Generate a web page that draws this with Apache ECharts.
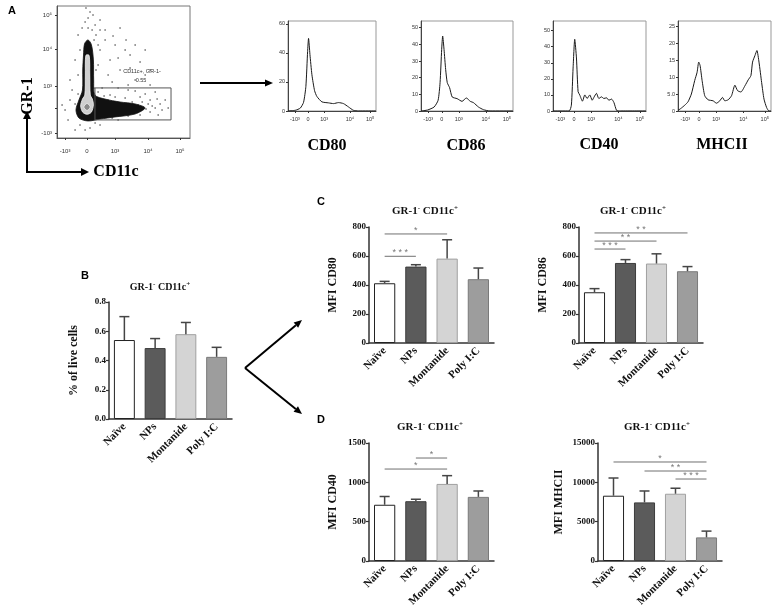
<!DOCTYPE html>
<html><head><meta charset="utf-8">
<script src="https://cdn.jsdelivr.net/npm/echarts@6/dist/echarts.min.js"></script>
<style>html,body{margin:0;padding:0;background:#fff}#c{width:777px;height:612px}</style>
</head><body><div id="c"></div>
<script>
// ---------- DATA ----------
const categories = ['Naïve', 'NPs', 'Montanide', 'Poly I:C'];
const pctLive = [0.54, 0.485, 0.58, 0.425];
const pctLiveErr = [0.70, 0.55, 0.66, 0.49];
const mfiCD80 = [412, 527, 582, 440];
const mfiCD80Err = [425, 540, 712, 517];
const mfiCD86 = [350, 552, 548, 495];
const mfiCD86Err = [375, 575, 615, 527];
const mfiCD40 = [715, 760, 980, 815];
const mfiCD40Err = [820, 785, 1085, 890];
const mfiMHCII = [8300, 7450, 8550, 3000];
const mfiMHCIIErr = [10550, 8900, 9250, 3800];
// significance: [fromIndex, yValue, toIndex, label]
const sigCD80 = [[0, 598, 1, '***'], [0, 752, 2, '*']];
const sigCD86 = [[0, 648, 1, '***'], [0, 703, 2, '**'], [0, 759, 3, '**']];
const sigCD40 = [[0, 1169, 2, '*'], [1, 1309, 2, '*']];
const sigMHCII = [[0, 12585, 3, '*'], [1, 11440, 3, '**'], [2, 10420, 3, '***']];

// flow cytometry histograms: [channel, count]
const histTickPos = [80, 232, 420, 720, 955];
const histTickLabels = ['-10³', '0', '10³', '10⁴', '10⁵'];
const histCD80YTicks = [0, 20, 40, 60];
const histCD86YTicks = [0, 10, 20, 30, 40, 50];
const histCD40YTicks = [0, 10, 20, 30, 40, 50];
const histMHCIIYTicks = [0, 5, 10, 15, 20, 25];
const histCD80 = [[0,0],[85,0.5],[143,2],[181,6],[208,17],[228,41],[239,50],[255,39],[278,25],[309,14],[336,10],[394,6.3],[471,5.6],[529,5.1],[587,5.8],[645,5.1],[703,2.8],[760,0.5],[818,0],[1023,0]];
const histCD86 = [[0,0],[73,0.6],[146,2.4],[190,6.4],[212,17],[230,37],[241,45],[256,37],[274,25],[292,17],[318,14],[347,8.4],[402,7.4],[456,5.8],[504,7.8],[548,5.8],[584,5],[639,2.4],[694,0.8],[767,0],[1022,0]];
const histCD40 = [[0,0],[177,0],[202,3.6],[221,26.7],[239,44.6],[258,33],[276,12],[294,10],[324,6.1],[350,10],[375,7.8],[405,10],[431,6.7],[453,8.8],[478,11],[504,7.8],[534,8.8],[559,7.8],[589,8.2],[615,6.7],[644,7.4],[670,5.3],[699,0.4],[729,0],[1023,0]];
const histMHCII = [[0,0.2],[29,0.7],[74,1.7],[110,2.7],[147,5],[184,9],[210,11.4],[228,14.4],[243,13.4],[265,9],[294,4.5],[331,3.3],[386,3],[423,2.3],[460,3],[489,4],[515,3],[552,3.3],[589,4.5],[626,7.6],[655,6],[692,5.6],[736,7.4],[773,9.2],[802,10.4],[820,14.4],[846,16.3],[868,17.8],[891,14.4],[920,8.4],[946,3.5],[975,1],[1001,0],[1023,0]];

// dot plot (channels)
const dotXTickPos = [62, 231, 446, 700, 946];
const dotXTickLabels = ['-10³', '0', '10³', '10⁴', '10⁵'];
const dotYTickPos = [39, 233, 403, 690, 953];
const dotYTickLabels = ['-10³', '', '10³', '10⁴', '10⁵'];
const dotOuter = [[212,730],[238,760],[264,725],[280,605],[282,450],[292,333],[369,302],[485,279],[600,264],[677,233],[600,186],[446,163],[331,147],[238,132],[169,155],[146,217],[169,295],[196,372],[198,527],[204,643]];
const dotCore = [[222,640],[247,640],[252,488],[256,333],[272,302],[280,256],[264,200],[231,184],[198,200],[182,248],[196,302],[214,333],[218,488]];
const dotInner = [[206,240],[231,268],[256,240],[231,213]];
const gateRect = [[292,140],[877,140],[877,388],[292,388],[292,140]];
const dotEvents = [[254,977],[277,953],[239,930],[216,899],[293,876],[270,837],[193,853],[331,915],[300,798],[162,798],[370,760],[447,721],[524,682],[562,643],[408,605],[639,589],[485,527],[331,682],[393,488],[601,450],[716,411],[316,566],[408,333],[524,310],[639,318],[716,295],[793,264],[562,217],[716,202],[485,233],[678,341],[755,357],[832,295],[639,178],[408,202],[331,194],[601,364],[100,295],[62,217],[116,372],[85,140],[139,62],[100,450],[39,256],[254,78],[331,101],[216,62],[470,388],[547,411],[424,434],[678,488],[347,388],[778,178],[855,233],[370,837],[223,1008],[470,620],[139,605],[162,488],[562,543],[624,256],[547,171],[470,140],[293,116],[177,101],[701,264],[755,233],[447,318],[501,178],[393,295],
  [308,264],[323,233],[354,248],[377,217],[424,264],[439,240],[470,209],[501,264],[531,240],[578,279],[593,233],[624,209],[655,279],[685,225],[732,248],[770,302],[808,217],[300,178],[362,171],[424,155],[516,202],[316,357],[362,326],[285,388],[162,341],[139,264],[177,186],[300,527],[177,682],[316,721],[285,760],[331,837],[239,853],[431,790],[485,853],[531,760],[601,721],[678,682],[716,527],[547,372]];

// ---------- CHART ----------
const SERIF = 'Liberation Serif';
const SANS = 'Liberation Sans';
const chart = echarts.init(document.getElementById('c'), null, {renderer: 'canvas'});

const grids = [], xAxes = [], yAxes = [], series = [];

// panel A dot plot
grids.push({left: 57, top: 6, width: 133, height: 132, show: true, borderColor: '#777', borderWidth: 1});
xAxes.push({type: 'value', gridIndex: 0, min: 0, max: 1023, splitLine: {show: false},
  axisLine: {lineStyle: {color: '#555'}},
  axisTick: {customValues: dotXTickPos, length: 2, lineStyle: {color: '#333'}},
  axisLabel: {customValues: dotXTickPos, formatter: v => dotXTickLabels[dotXTickPos.indexOf(v)], fontSize: 6, color: '#333', fontFamily: SANS, margin: 10}});
yAxes.push({type: 'value', gridIndex: 0, min: 0, max: 1023, splitLine: {show: false},
  axisLine: {lineStyle: {color: '#555'}},
  axisTick: {customValues: dotYTickPos, length: 2, lineStyle: {color: '#333'}},
  axisLabel: {customValues: dotYTickPos, formatter: v => dotYTickLabels[dotYTickPos.indexOf(v)], fontSize: 6, color: '#333', fontFamily: SANS, margin: 5}});
function polySeries(poly, fill, stroke, z) {
  return {type: 'custom', xAxisIndex: 0, yAxisIndex: 0, data: [[poly[0][0], poly[0][1]]], z: z, silent: true,
    renderItem: (p, api) => ({type: 'polygon', shape: {points: poly.map(pt => api.coord(pt)), smooth: 0.3},
      style: {fill: fill, stroke: stroke, lineWidth: 0.8}})};
}
series.push({type: 'scatter', xAxisIndex: 0, yAxisIndex: 0, data: dotEvents, symbolSize: 1.6, itemStyle: {color: '#111'}, z: 2, silent: true});
series.push(polySeries(dotOuter, '#111', '#111', 3));
series.push(polySeries(dotCore, '#cfcfcf', '#f4f4f4', 4));
series.push(polySeries(dotInner, '#8a8a8a', '#eee', 5));
series.push({type: 'line', xAxisIndex: 0, yAxisIndex: 0, data: gateRect, symbol: 'none', lineStyle: {color: '#555', width: 1}, z: 6, silent: true});

// histograms
const hists = [
  {data: histCD80, ticks: histCD80YTicks, left: 288, width: 88, max: 62},
  {data: histCD86, ticks: histCD86YTicks, left: 421, width: 92, max: 54},
  {data: histCD40, ticks: histCD40YTicks, left: 553, width: 93, max: 56},
  {data: histMHCII, ticks: histMHCIIYTicks, left: 678, width: 93, max: 26.5}
];
hists.forEach((h, i) => {
  const gi = grids.length;
  grids.push({left: h.left, top: 21, width: h.width, height: 90, show: true, borderColor: '#999', borderWidth: 1});
  xAxes.push({type: 'value', gridIndex: gi, min: 0, max: 1023, splitLine: {show: false},
    axisLine: {lineStyle: {color: '#444'}},
    axisTick: {customValues: histTickPos, length: 2, lineStyle: {color: '#333'}},
    axisLabel: {customValues: histTickPos, formatter: v => histTickLabels[histTickPos.indexOf(v)], fontSize: 5.5, color: '#333', fontFamily: SANS, margin: 5}});
  yAxes.push({type: 'value', gridIndex: gi, min: 0, max: h.max, splitLine: {show: false},
    axisLine: {show: true, lineStyle: {color: '#444'}},
    axisTick: {show: true, customValues: h.ticks, length: 2, lineStyle: {color: '#333'}},
    axisLabel: {customValues: h.ticks, fontSize: 5.5, color: '#333', fontFamily: SANS, margin: 3,
      formatter: v => (h.ticks[1] === 5 && v === 5 ? '5.0' : String(v))}});
  series.push({type: 'line', xAxisIndex: gi, yAxisIndex: gi, data: h.data, symbol: 'none', smooth: 0.2,
    lineStyle: {color: '#1a1a1a', width: 1}, silent: true});
});

// bar charts
const barStyles = [
  {color: '#ffffff', borderColor: '#222', borderWidth: 1},
  {color: '#5b5b5b', borderColor: '#3c3c3c', borderWidth: 1},
  {color: '#d4d4d4', borderColor: '#a0a0a0', borderWidth: 1},
  {color: '#9d9d9d', borderColor: '#7a7a7a', borderWidth: 1}
];
const bars = [
  {vals: pctLive, errs: pctLiveErr, sig: [], left: 109, width: 123, top: 302, height: 117, max: 0.8, interval: 0.2, name: '% of live cells', nameGap: 29, fmt: v => v.toFixed(1)},
  {vals: mfiCD80, errs: mfiCD80Err, sig: sigCD80, left: 369, width: 125, top: 227, height: 116, max: 800, interval: 200, name: 'MFI CD80', nameGap: 30, fmt: v => String(v)},
  {vals: mfiCD86, errs: mfiCD86Err, sig: sigCD86, left: 579, width: 124, top: 227, height: 116, max: 800, interval: 200, name: 'MFI CD86', nameGap: 30, fmt: v => String(v)},
  {vals: mfiCD40, errs: mfiCD40Err, sig: sigCD40, left: 369, width: 125, top: 443, height: 118, max: 1500, interval: 500, name: 'MFI CD40', nameGap: 30, fmt: v => String(v)},
  {vals: mfiMHCII, errs: mfiMHCIIErr, sig: sigMHCII, left: 598, width: 124, top: 443, height: 118, max: 15000, interval: 5000, name: 'MFI MHCII', nameGap: 33, fmt: v => String(v)}
];
bars.forEach(b => {
  const gi = grids.length;
  grids.push({left: b.left, top: b.top, width: b.width, height: b.height});
  xAxes.push({type: 'category', gridIndex: gi, data: categories,
    axisLine: {lineStyle: {color: '#333', width: 1.5}},
    axisTick: {alignWithLabel: true, length: 4, lineStyle: {color: '#333', width: 1.2}},
    axisLabel: {rotate: 45, interval: 0, fontFamily: SERIF, fontWeight: 'bold', fontSize: 11, color: '#111', margin: 6}});
  yAxes.push({type: 'value', gridIndex: gi, min: 0, max: b.max, interval: b.interval, splitLine: {show: false},
    axisLine: {show: true, lineStyle: {color: '#333', width: 1.5}},
    axisTick: {show: true, length: 3, lineStyle: {color: '#333', width: 1.2}},
    axisLabel: {fontFamily: SERIF, fontWeight: 'bold', fontSize: 9, color: '#111', margin: 3, formatter: b.fmt},
    name: b.name, nameLocation: 'middle', nameGap: b.nameGap,
    nameTextStyle: {fontFamily: SERIF, fontWeight: 'bold', fontSize: 12, color: '#111'}});
  series.push({type: 'bar', xAxisIndex: gi, yAxisIndex: gi, barWidth: '68%', silent: true,
    data: b.vals.map((v, i) => ({value: v, itemStyle: barStyles[i]}))});
  series.push({type: 'custom', xAxisIndex: gi, yAxisIndex: gi, z: 3, silent: true,
    data: b.vals.map((v, i) => [i, v, b.errs[i]]),
    renderItem: (p, api) => {
      const s = api.coord([api.value(0), api.value(1)]);
      const t = api.coord([api.value(0), api.value(2)]);
      const st = {stroke: '#454545', lineWidth: 1.5};
      return {type: 'group', children: [
        {type: 'line', shape: {x1: s[0], y1: s[1], x2: t[0], y2: t[1]}, style: st},
        {type: 'line', shape: {x1: t[0] - 5, y1: t[1], x2: t[0] + 5, y2: t[1]}, style: st}]};
    }});
  if (b.sig.length) {
    series.push({type: 'custom', xAxisIndex: gi, yAxisIndex: gi, z: 4, silent: true,
      encode: {x: 0, y: 1},
      data: b.sig.map(s => [s[0], s[1], s[2]]),
      renderItem: (p, api) => {
        const a = api.coord([api.value(0), api.value(1)]);
        const c = api.coord([api.value(2), api.value(1)]);
        return {type: 'group', children: [
          {type: 'line', shape: {x1: a[0], y1: a[1], x2: c[0], y2: c[1]}, style: {stroke: '#707070', lineWidth: 1}},
          {type: 'text', style: {text: b.sig[p.dataIndex][3].split('').join(' '), x: (a[0] + c[0]) / 2, y: a[1] + 1,
            textAlign: 'center', textVerticalAlign: 'bottom', fontSize: 9, fill: '#777', fontFamily: SANS}}]};
      }});
  }
});

// ---------- decorations ----------
function arrow(x1, y1, x2, y2, w, hl, hw) {
  const ang = Math.atan2(y2 - y1, x2 - x1);
  const bx = x2 - hl * Math.cos(ang), by = y2 - hl * Math.sin(ang);
  const px = -Math.sin(ang) * hw / 2, py = Math.cos(ang) * hw / 2;
  return [
    {type: 'line', shape: {x1: x1, y1: y1, x2: bx, y2: by}, style: {stroke: '#000', lineWidth: w}},
    {type: 'polygon', shape: {points: [[x2, y2], [bx + px, by + py], [bx - px, by - py]]}, style: {fill: '#000'}}
  ];
}
function txt(t, x, y, size, font, extra) {
  return {type: 'text', x: x, y: y, style: Object.assign({text: t, fontSize: size, fontFamily: font,
    fontWeight: 'bold', fill: '#000', textAlign: 'center', textVerticalAlign: 'middle'}, extra || {})};
}
function ttl(x, y, size) {
  const r = {
    a: {fontFamily: SERIF, fontWeight: 'bold', fontSize: size, fill: '#111'},
    s: {fontFamily: SERIF, fontWeight: 'bold', fontSize: 7, fill: '#111', verticalAlign: 'top', padding: [0, 0, 5, 0]}
  };
  return {type: 'text', x: x, y: y, style: {text: '{a|GR-1}{s|-}{a| CD11c}{s|+}', rich: r, textAlign: 'center', textVerticalAlign: 'middle'}};
}
const graphics = [].concat(
  arrow(200, 83, 273, 83, 2, 8, 7),
  arrow(27, 172, 27, 111, 2, 8, 8),
  arrow(26, 172, 89, 172, 2, 8, 8),
  arrow(245, 368, 302, 320, 2, 8, 7),
  arrow(245, 368, 302, 414, 2, 8, 7),
  [
    txt('A', 12, 11, 11, SANS),
    txt('B', 85, 276, 11, SANS),
    txt('C', 321, 202, 11, SANS),
    txt('D', 321, 420, 11, SANS),
    Object.assign(txt('GR-1', 28, 96, 16, SERIF), {rotation: Math.PI / 2}),
    txt('CD11c', 116, 172, 16, SERIF),
    txt('CD80', 327, 146, 16, SERIF),
    txt('CD86', 466, 146, 16, SERIF),
    txt('CD40', 599, 145, 16, SERIF),
    txt('MHCII', 722, 145, 16, SERIF),
    txt('CD11c+, GR-1-', 142, 71, 5.5, SANS, {fontWeight: 'normal', fill: '#333'}),
    txt('0.55', 141, 80, 5.5, SANS, {fontWeight: 'normal', fill: '#333'}),
    ttl(160, 287, 10),
    ttl(425, 211, 11),
    ttl(633, 211, 11),
    ttl(430, 427, 11),
    ttl(657, 427, 11)
  ]
);

chart.setOption({
  animation: false,
  backgroundColor: '#fff',
  grid: grids, xAxis: xAxes, yAxis: yAxes, series: series,
  graphic: {elements: graphics}
});
</script></body></html>
